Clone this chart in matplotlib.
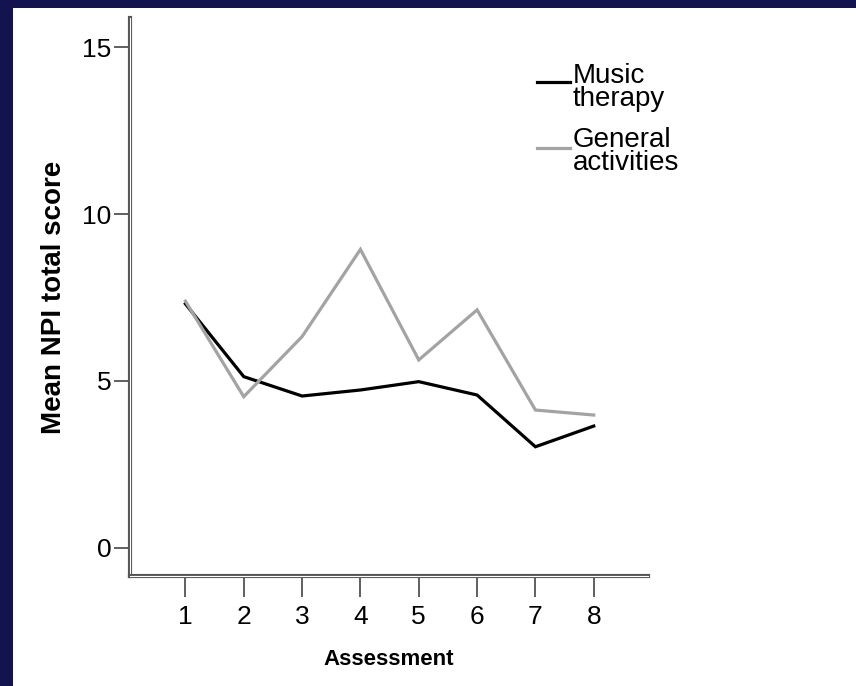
import matplotlib.pyplot as plt
import matplotlib.patheffects as pe
from matplotlib.patches import Rectangle

# data
assessments = [1, 2, 3, 4, 5, 6, 7, 8]
music_therapy = [7.31, 5.13, 4.55, 4.73, 4.98, 4.58, 3.03, 3.65]
general_activities = [7.39, 4.53, 6.33, 8.94, 5.63, 7.13, 4.13, 3.98]
series_names = ['Music\ntherapy', 'General\nactivities']
series_colors = ['black', '#a3a3a3']
y_ticks = [0, 5, 10, 15]

plt.rcParams['font.family'] = ['Liberation Sans', 'DejaVu Sans']

fig = plt.figure(figsize=(8.56, 6.86), dpi=100)
fig.patch.set_facecolor('#13134f')
# white slide area
fig.patches.append(Rectangle((13 / 856, 0), 1, 1 - 8 / 686, transform=fig.transFigure,
                             facecolor='white', edgecolor='none', zorder=-5))

ax = fig.add_axes([130 / 856, 1 - 576 / 686, 518 / 856, 558 / 686])
ax.set_facecolor('none')
ax.set_zorder(2)

for vals, col in zip([music_therapy, general_activities], series_colors):
    ax.plot(assessments, vals, color=col, lw=2.3, solid_joinstyle='miter')

ax.set_xlim(0.05, 8.93)
ax.set_ylim(-0.84, 15.87)
ax.set_xticks(assessments)
ax.set_yticks(y_ticks)
ax.tick_params(axis='both', direction='out', width=1.2, color='#444444', labelsize=19)
ax.tick_params(axis='x', length=15, pad=6)
ax.tick_params(axis='y', length=11.5, pad=2)

for side in ['top', 'right']:
    ax.spines[side].set_visible(False)
for side in ['left', 'bottom']:
    sp = ax.spines[side]
    sp.set_color('white')
    sp.set_linewidth(0.8)
    sp.set_path_effects([pe.Stroke(linewidth=3, foreground='#555555'), pe.Normal()])

ax.set_xlabel('Assessment', fontsize=16, fontweight='bold')
ax.set_ylabel('Mean NPI total score', fontsize=20, fontweight='bold')
ax.xaxis.set_label_coords(0.5, -0.131)
ax.yaxis.set_label_coords(-0.121, 0.5)

# legend, handle aligned with first text line
leg_text_top = [0.908, 0.815]
leg_line_y = [0.880, 0.784]
for name, col, ty, ly in zip(series_names, series_colors, leg_text_top, leg_line_y):
    fig.text(0.669, ty, name, fontsize=20, va='top', ha='left', linespacing=0.85, zorder=3)
    fig.add_artist(plt.Line2D([0.627, 0.666], [ly, ly],
                              transform=fig.transFigure, color=col, lw=2.3, zorder=3))

fig.savefig('out.png', dpi=100, facecolor=fig.get_facecolor())
